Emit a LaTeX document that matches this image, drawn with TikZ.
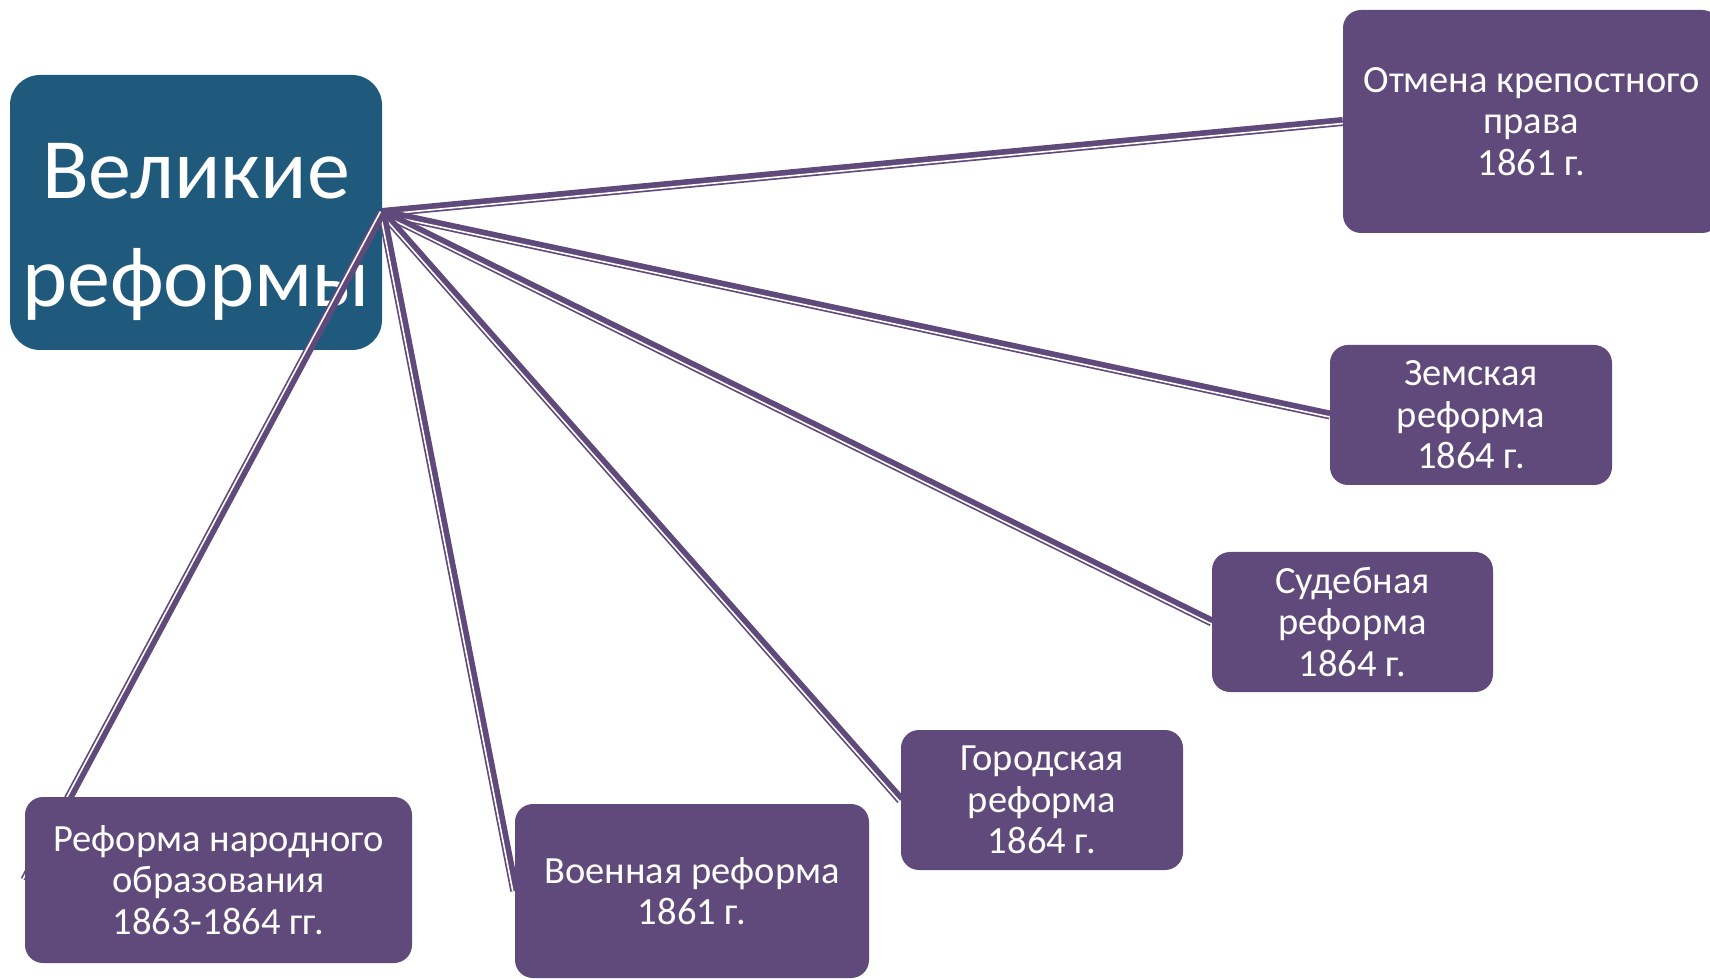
\documentclass[tikz,border=0pt]{standalone}
\usepackage{fontspec}
\setmainfont{Carlito}
\usetikzlibrary{calc,backgrounds}
\definecolor{reformblue}{HTML}{1F5A7C}
\definecolor{reformlilac}{HTML}{604A7B}
\begin{document}
\begin{tikzpicture}[
    x=1pt, y=1pt,
    every node/.style={text=white, align=center, inner sep=0pt},
    reform/.style={fill=reformlilac, rounded corners=18pt, font=\fontsize{38.5}{41.5}\selectfont},
    link/.style={draw=reformlilac, line width=9pt},
    gap/.style={draw=white, line width=1.6pt}
  ]
  \useasboundingbox (0,0) rectangle (1710,978);
  \node[reform, minimum width=377, minimum height=223] (otmena) at (1531.5,856.5) {Отмена крепостного\\права\\1861 г.};
  \node[reform, minimum width=282, minimum height=140] (zemsk) at (1471,563) {Земская\\реформа\\1864 г.};
  \node[reform, minimum width=281, minimum height=140] (sud) at (1352.5,356) {Судебная\\реформа\\1864 г.};
  \node[reform, minimum width=282, minimum height=140] (gor) at (1042,178) {Городская\\реформа\\1864 г.};
  \node[reform, minimum width=354, minimum height=174] (voen) at (692,87) {Военная реформа\\1861 г.};
  \node[reform, minimum width=387, minimum height=166] (narod) at (218.5,98) {Реформа народного\\образования\\1863-1864 гг.};
  \begin{scope}[on background layer]
    \node[fill=reformblue, rounded corners=30pt, minimum width=372, minimum height=275,
      font=\fontsize{86}{108}\selectfont] (main) at (196,765.5) {\rule{0pt}{94pt}Великие\\реформы};
    \foreach \t in {otmena,zemsk,sud,gor,voen,narod}{
      \draw[link] (main.east) -- (\t.west);
      \draw[gap] ($(main.east)!2pt!-90:(\t.west)$) -- ($(\t.west)!2pt!90:(main.east)$);
    }
  \end{scope}
\end{tikzpicture}
\end{document}
